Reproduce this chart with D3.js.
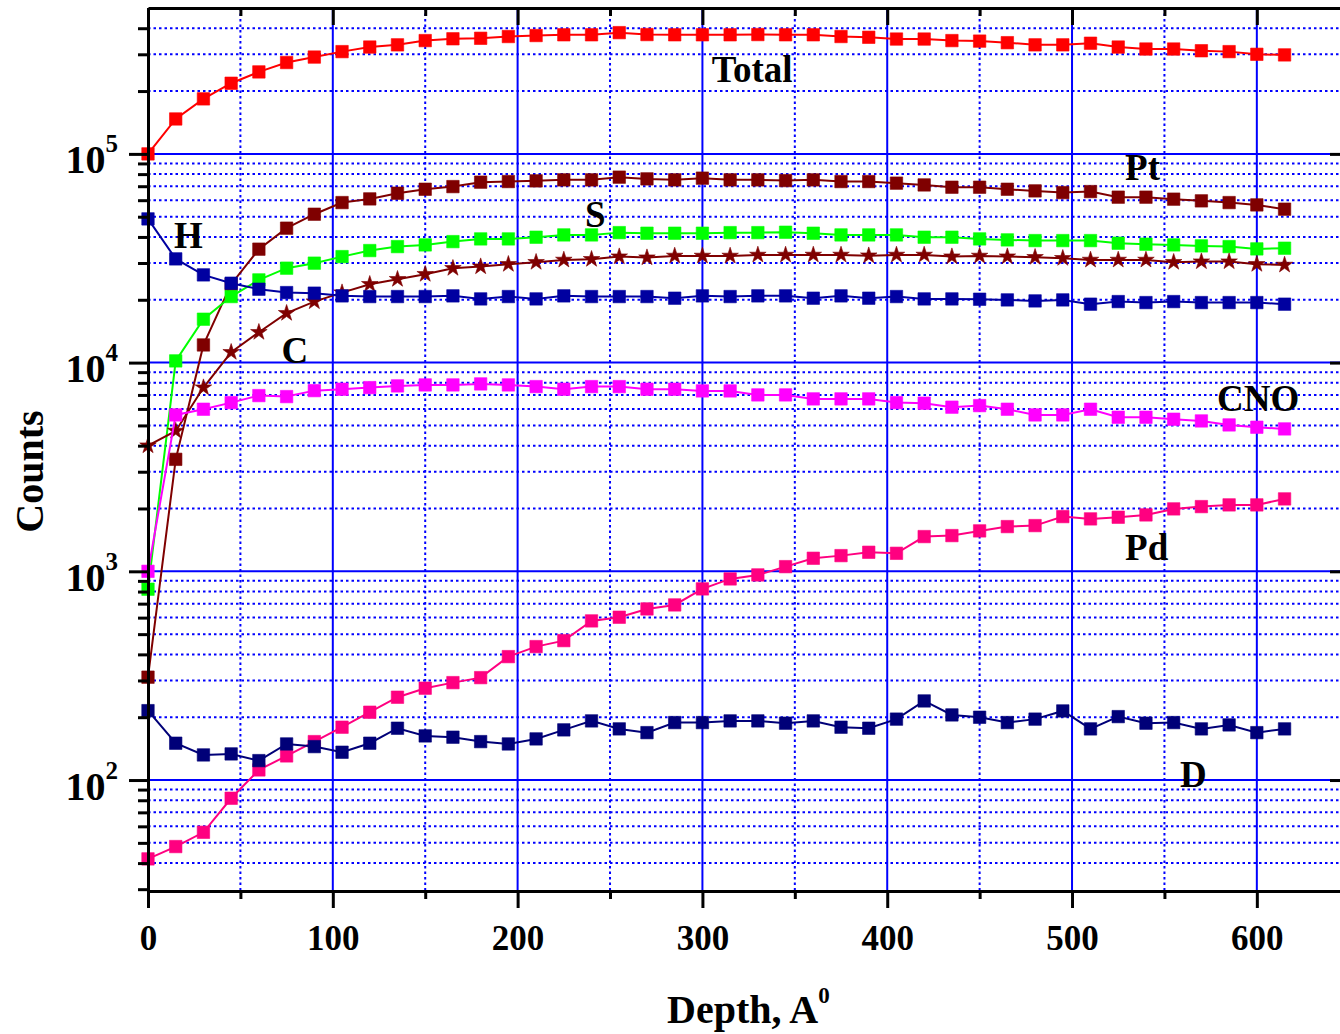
<!DOCTYPE html>
<html><head><meta charset="utf-8">
<script src="https://cdn.jsdelivr.net/npm/d3@7"></script>
<style>
body{margin:0;background:#fff}
svg{display:block;background:#fff}
text{font-family:"Liberation Serif","Times New Roman",serif;font-weight:bold;fill:#000}
</style>
</head><body>
<svg id="c" width="1340" height="1034"></svg>
<script>
// ---------------- data ----------------
const depth = [0,15,30,45,60,75,90,105,120,135,150,165,180,195,210,225,240,255,270,285,300,315,330,345,360,375,390,405,420,435,450,465,480,495,510,525,540,555,570,585,600,615];

const totalCounts = [100000,147000,183500,218000,247000,274000,291000,309000,325000,333000,349000,356000,358000,365000,369000,372000,372000,381000,373000,372000,372000,372000,373000,372000,372000,365000,362000,355000,355000,349000,347000,341000,333000,333000,339000,325000,318000,318000,312000,309000,300000,298000];

const ptCounts = [311,3440,12150,23750,34950,44060,51400,58440,60860,64800,67700,69700,73200,73700,74250,75080,75080,77360,75900,75080,76500,75080,75080,74500,75080,73700,73700,72400,71000,69230,69230,67700,66480,65250,65980,62030,62030,60680,59560,58440,56960,54330];

const sCounts = [821,10190,16140,20720,24900,28340,29950,32200,34420,35960,36640,37990,39140,39140,39880,40900,40900,41950,41680,41680,41680,41950,41950,42130,41680,40900,40900,40900,39880,39880,39140,38720,38420,38420,38420,37330,36920,36640,36240,35960,35060,35330];

const cCounts = [4002,4706,7591,11215,13985,17250,19605,21650,23750,25100,26530,28340,28840,29610,30280,31050,31290,32200,31850,32450,32450,32450,32810,32810,32810,32810,32550,32810,32810,32200,32450,32200,31990,31640,31050,31050,31050,30280,30480,30480,29610,29380];

const hCounts = [48810,31400,26320,24010,22470,21650,21510,20880,20720,20720,20720,20880,20190,20720,20190,20880,20720,20720,20720,20350,20880,20720,20880,20880,20350,20880,20350,20720,20190,20190,20120,19970,19750,19970,19050,19605,19390,19605,19390,19390,19390,19050];

const cnoCounts = [1000,5614,5978,6432,6949,6873,7340,7455,7588,7733,7817,7817,7904,7817,7673,7455,7673,7673,7455,7455,7317,7317,7002,7002,6701,6701,6701,6432,6391,6115,6222,5978,5614,5614,5978,5473,5473,5354,5254,5028,4902,4811];

const pdCounts = [41.9,48.0,56.2,81.8,111.8,130.5,152.8,179.1,211.3,249.3,275.4,292.9,309.5,390.2,435.8,465.6,578.6,602.6,660.3,690.2,823.7,919.5,961,1053,1155,1189,1234,1220,1467,1483,1562,1638,1656,1829,1783,1816,1863,1991,2042,2081,2081,2223];

const dCounts = [215,150.1,131.9,133.4,123.9,148.9,144.6,135.9,150.1,177.1,162.7,160.4,152.8,148.9,157.4,173.9,192.0,175.8,168.7,188.5,188.5,192.0,192.0,187.2,192.0,179.1,177.1,195.8,239.3,205.1,199.9,188.5,195.8,214.3,175.8,201.3,187.2,188.5,175.8,183.7,168.7,175.8];

const xTicks = [0,100,200,300,400,500,600];
const xMinorTicks = [50,150,250,350,450,550];
const yTicks = [1e2,1e3,1e4,1e5];
const yTickExponents = ["2","3","4","5"];
const yMinorTicks = [30,40,50,60,70,80,90,200,300,400,500,600,700,800,900,2000,3000,4000,5000,6000,7000,8000,9000,20000,30000,40000,50000,60000,70000,80000,90000,200000,300000,400000];

const seriesNames = ["Total","Pt","S","C","H","CNO","Pd","D"];
const seriesColors = ["#ff0000","#7f0000","#00ff00","#7f0000","#0000a0","#ff00ff","#ff0080","#000078"];
const seriesSymbols = ["square","square","square","star","square","square","square","square"];
const seriesValues = [totalCounts,ptCounts,sCounts,cCounts,hCounts,cnoCounts,pdCounts,dCounts];

const labelTexts = ["Total","Pt","S","H","C","CNO","Pd","D"];
const labelDepth = [305,528.7,236.5,14.1,72.3,578.5,528.7,558.4];
const labelCounts = [222000,75070,44830,35330,9930,5868,1133,92.9];

// ---------------- chart ----------------
const svg = d3.select("#c");
const x = d3.scaleLinear().domain([0,645]).range([148,1340]);
const y = d3.scaleLog().domain([29.4,5e5]).range([891,8]);
const X0 = x.range()[0], X1 = x.range()[1], Y0 = y.range()[0], Y1 = y.range()[1];

// grid
const grid = svg.append("g");
grid.selectAll(".hmin").data(yMinorTicks.filter(d=>y(d)<Y0-4)).join("line")
  .attr("x1",X0).attr("x2",X1).attr("y1",d=>y(d)).attr("y2",d=>y(d))
  .attr("stroke","#0000ff").attr("stroke-width",2).attr("stroke-dasharray","2.5,3");
grid.selectAll(".vmin").data(xMinorTicks).join("line")
  .attr("y1",Y1).attr("y2",Y0).attr("x1",d=>x(d)).attr("x2",d=>x(d))
  .attr("stroke","#0000ff").attr("stroke-width",2).attr("stroke-dasharray","2.5,3");
grid.selectAll(".hmaj").data(yTicks).join("line")
  .attr("x1",X0).attr("x2",X1).attr("y1",d=>y(d)).attr("y2",d=>y(d))
  .attr("stroke","#0000ff").attr("stroke-width",2);
grid.selectAll(".vmaj").data(xTicks.filter(d=>d>0)).join("line")
  .attr("y1",Y1).attr("y2",Y0).attr("x1",d=>x(d)).attr("x2",d=>x(d))
  .attr("stroke","#0000ff").attr("stroke-width",2);

// series
const series = seriesNames.map((n,i)=>({name:n,color:seriesColors[i],symbol:seriesSymbols[i],values:seriesValues[i]}));
const line = d3.line().x((d,i)=>x(depth[i])).y(d=>y(d));
const sq = d3.symbol().type(d3.symbolSquare).size(155);
const st = d3.symbol().type(d3.symbolStar).size(85);
series.forEach(s=>{
  const g = svg.append("g");
  g.append("path").attr("d",line(s.values)).attr("fill","none")
    .attr("stroke",s.color).attr("stroke-width",2);
  g.selectAll("path.m").data(s.values).join("path").attr("class","m")
    .attr("transform",(d,i)=>`translate(${x(depth[i])},${y(d)})`)
    .attr("d",s.symbol==="star"?st():sq())
    .attr("fill",s.color).attr("stroke",s.color).attr("stroke-width",0.6);
});

// axes
function styleAxis(g){
  g.selectAll("line").attr("stroke","#000").attr("stroke-width",3);
  g.selectAll("path.domain").attr("stroke","#000").attr("stroke-width",3);
}
// left
const gl = svg.append("g").attr("transform",`translate(${X0},0)`)
  .call(d3.axisLeft(y).tickValues(yTicks).tickSize(19).tickSizeOuter(0).tickFormat(()=>"10"));
styleAxis(gl);
gl.selectAll("text").attr("x",-30).attr("y",19).attr("dy",null)
  .style("font-size","40px").attr("text-anchor","end")
  .each(function(d){
    d3.select(this).append("tspan").attr("dy",-21).style("font-size","25px").text(yTickExponents[yTicks.indexOf(d)]);
  });
const glm = svg.append("g").attr("transform",`translate(${X0},0)`)
  .call(d3.axisLeft(y).tickValues(yMinorTicks).tickSize(10).tickSizeOuter(0).tickFormat(""));
glm.select("path.domain").remove(); styleAxis(glm);
// right (inward)
const gr = svg.append("g").attr("transform",`translate(${X1},0)`)
  .call(d3.axisLeft(y).tickValues(yTicks).tickSize(10).tickSizeOuter(0).tickFormat(""));
gr.select("path.domain").remove(); styleAxis(gr);
// bottom
const gb = svg.append("g").attr("transform",`translate(0,${Y0})`)
  .call(d3.axisBottom(x).tickValues(xTicks).tickSize(17).tickSizeOuter(0));
styleAxis(gb);
gb.selectAll("text").attr("y",59).attr("dy",null).style("font-size","35px");
const gbm = svg.append("g").attr("transform",`translate(0,${Y0})`)
  .call(d3.axisBottom(x).tickValues(xMinorTicks).tickSize(8).tickSizeOuter(0).tickFormat(""));
gbm.select("path.domain").remove(); styleAxis(gbm);
// top (inward)
const gt = svg.append("g").attr("transform",`translate(0,${Y1})`)
  .call(d3.axisBottom(x).tickValues(xTicks).tickSize(17).tickSizeOuter(0).tickFormat(""));
styleAxis(gt);
const gtm = svg.append("g").attr("transform",`translate(0,${Y1})`)
  .call(d3.axisBottom(x).tickValues(xMinorTicks).tickSize(8).tickSizeOuter(0).tickFormat(""));
gtm.select("path.domain").remove(); styleAxis(gtm);

// axis titles
svg.append("text").attr("transform","translate(43,471.5) rotate(-90)")
  .attr("text-anchor","middle").style("font-size","40px").text("Counts");
const xt = svg.append("text").attr("x",667).attr("y",1023).style("font-size","40px");
xt.append("tspan").text("Depth, A");
xt.append("tspan").attr("dx",0).attr("dy",-20).style("font-size","23px").text("0");

// series labels
svg.append("g").selectAll("text").data(labelTexts).join("text")
  .attr("x",(d,i)=>x(labelDepth[i])).attr("y",(d,i)=>y(labelCounts[i]))
  .style("font-size","37px").text(d=>d);
</script>
</body></html>
